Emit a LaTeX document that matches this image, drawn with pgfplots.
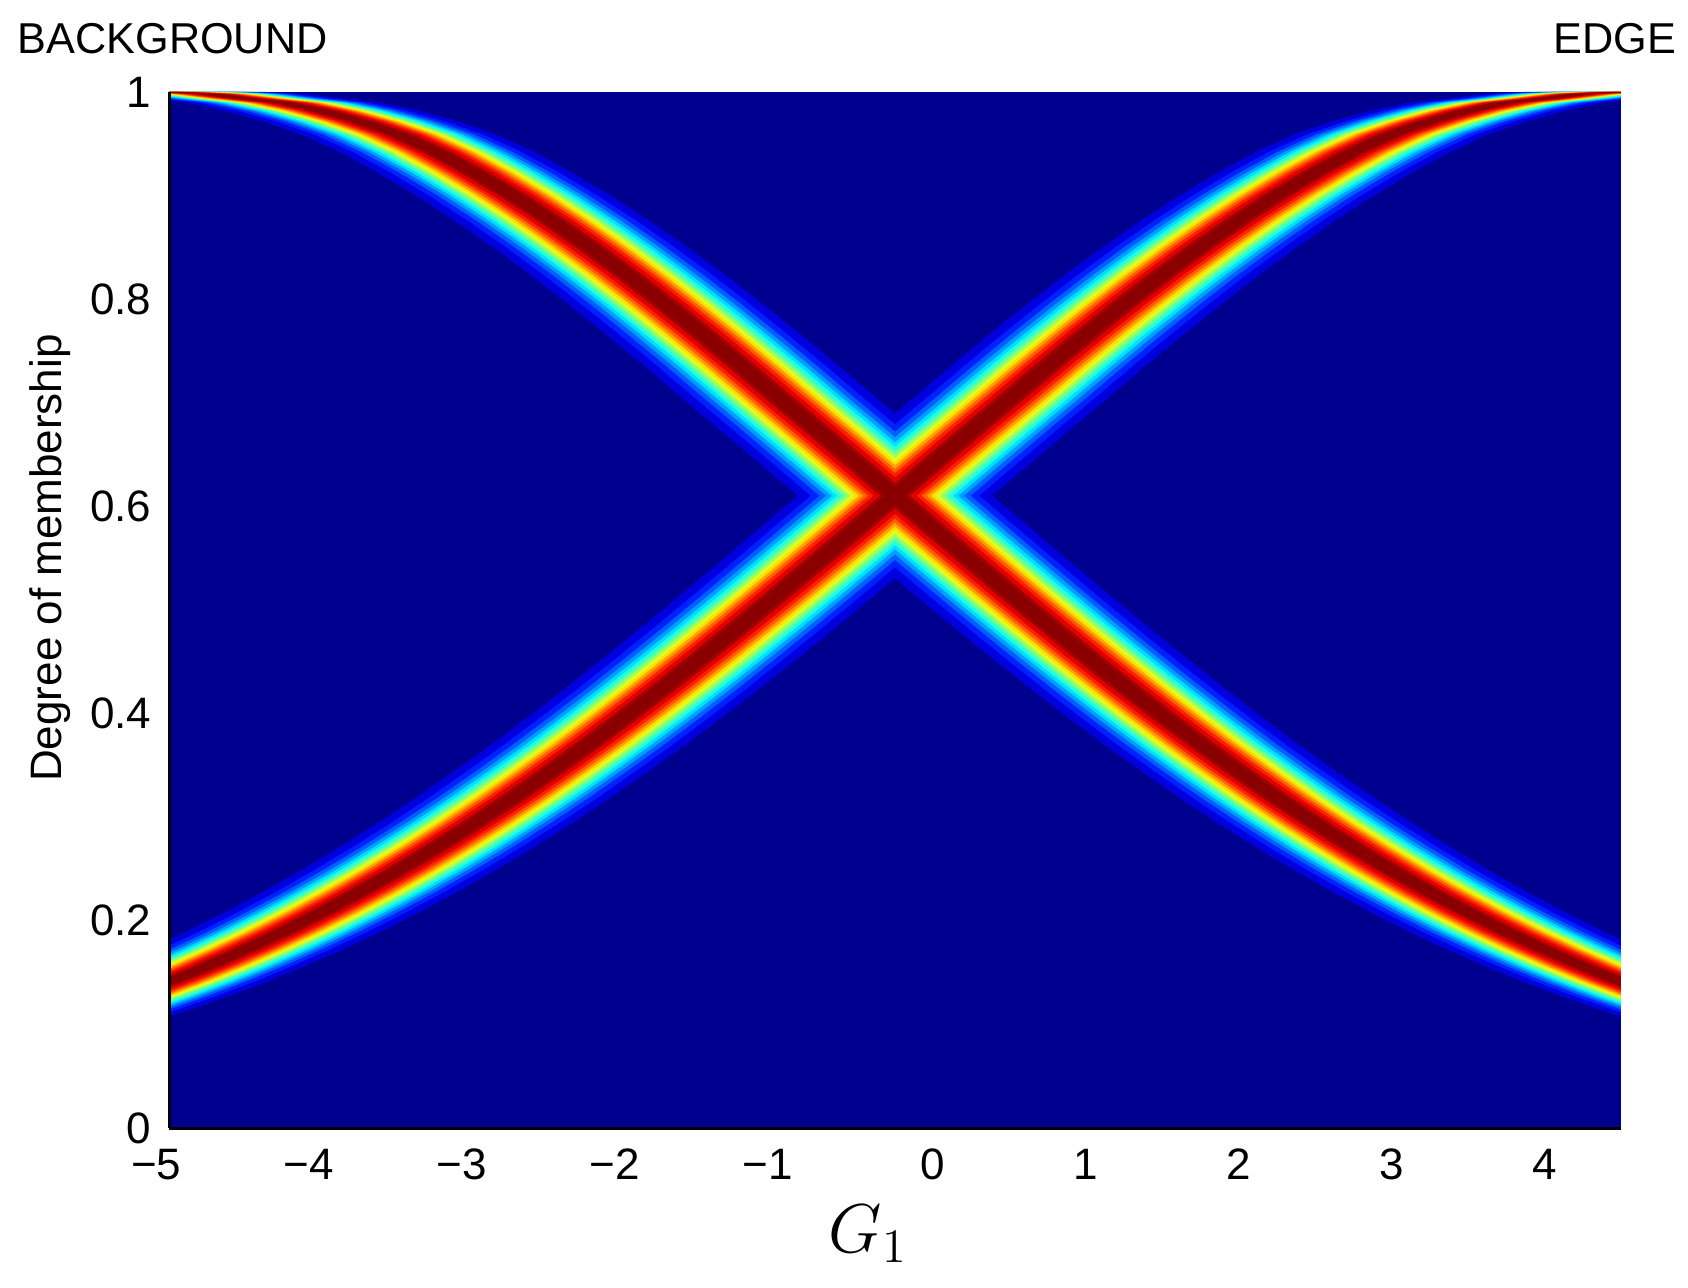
\documentclass[border=0pt]{standalone}
\usepackage{fontspec}
\setmainfont{Liberation Sans}
\usepackage{pgfplots}
\pgfplotsset{compat=1.18}
\usepackage{pgfplotstable}
\usepgfplotslibrary{fillbetween}

\pgfplotstableread{
x y
-6.00 1.0000
-5.50 1.0000
-5.25 1.0000
-5.00 1.0000
-4.75 0.9982
-4.50 0.9937
-4.25 0.9897
-4.00 0.9820
-3.75 0.9718
-3.50 0.9592
-3.25 0.9424
-3.00 0.9223
-2.75 0.9003
-2.50 0.8764
-2.25 0.8508
-2.00 0.8237
-1.75 0.7952
-1.50 0.7656
-1.25 0.7351
-1.00 0.7038
-0.75 0.6729
-0.50 0.6417
-0.25 0.6103
0.00 0.5789
0.25 0.5476
0.50 0.5166
0.75 0.4861
1.00 0.4561
1.25 0.4268
1.50 0.3983
1.75 0.3707
2.00 0.3442
2.25 0.3186
2.50 0.2942
2.75 0.2709
3.00 0.2488
3.25 0.2279
3.50 0.2082
3.75 0.1896
4.00 0.1723
4.25 0.1561
4.50 0.1410
4.75 0.1271
5.00 0.1142
5.25 0.1024
5.50 0.0916
}\bgtab

\pgfplotstableread{
x y
-6.00 0.0916
-5.75 0.1024
-5.50 0.1142
-5.25 0.1271
-5.00 0.1410
-4.75 0.1561
-4.50 0.1723
-4.25 0.1896
-4.00 0.2082
-3.75 0.2279
-3.50 0.2488
-3.25 0.2709
-3.00 0.2942
-2.75 0.3186
-2.50 0.3442
-2.25 0.3707
-2.00 0.3983
-1.75 0.4268
-1.50 0.4561
-1.25 0.4861
-1.00 0.5166
-0.75 0.5476
-0.50 0.5789
-0.25 0.6103
0.00 0.6417
0.25 0.6729
0.50 0.7038
0.75 0.7351
1.00 0.7656
1.25 0.7952
1.50 0.8237
1.75 0.8508
2.00 0.8764
2.25 0.9003
2.50 0.9223
2.75 0.9424
3.00 0.9592
3.25 0.9718
3.50 0.9820
3.75 0.9897
4.00 0.9937
4.25 0.9982
4.50 1.0000
4.75 1.0000
5.50 1.0000
6.00 1.0000
}\edtab

\definecolor{jbg}{rgb}{0,0,0.56}
\definecolor{ca}{rgb}{0,0,0.875}
\definecolor{cb}{rgb}{0,0.125,1}
\definecolor{cc}{rgb}{0,0.375,1}
\definecolor{cd}{rgb}{0,0.625,1}
\definecolor{ce}{rgb}{0,0.875,1}
\definecolor{cf}{rgb}{0.125,1,0.875}
\definecolor{cg}{rgb}{0.375,1,0.625}
\definecolor{ch}{rgb}{0.625,1,0.375}
\definecolor{ci}{rgb}{0.875,1,0.125}
\definecolor{cj}{rgb}{1,0.875,0}
\definecolor{ck}{rgb}{1,0.625,0}
\definecolor{cl}{rgb}{1,0.375,0}
\definecolor{cm}{rgb}{1,0.125,0}
\definecolor{cn}{rgb}{0.875,0,0}
\definecolor{co}{rgb}{0.64,0,0}
\definecolor{cp}{rgb}{0.54,0,0}

\newcommand{\lev}[3]{%
\addplot[draw=none,forget plot,name path=bl#3] table[x expr=\thisrow{x}-#1,y=y]{\bgtab};
\addplot[draw=none,forget plot,name path=br#3] table[x expr=\thisrow{x}+#1,y=y]{\bgtab};
\addplot[draw=none,forget plot,name path=el#3] table[x expr=\thisrow{x}-#1,y=y]{\edtab};
\addplot[draw=none,forget plot,name path=er#3] table[x expr=\thisrow{x}+#1,y=y]{\edtab};
\addplot[fill=#2,draw=none,forget plot] fill between[of=bl#3 and br#3];
\addplot[fill=#2,draw=none,forget plot] fill between[of=el#3 and er#3];
}

\begin{document}
\begin{tikzpicture}
\begin{axis}[
  at={(0,0)}, anchor=south west,
  scale only axis, width=363pt, height=259pt,
  xmin=-5, xmax=4.5, ymin=0, ymax=1,
  axis background/.style={fill=jbg},
  axis on top,
  axis x line=bottom, axis y line=left,
  axis line style={-, line width=0.75pt, black},
  major tick length=0pt,
  xtick={-5,-4,-3,-2,-1,0,1,2,3,4},
  xticklabels={\llap{−}5,\llap{−}4,\llap{−}3,\llap{−}2,\llap{−}1,0,1,2,3,4},
  ytick={0,0.2,0.4,0.6,0.8,1},
  yticklabels={0,0.2,0.4,0.6,0.8,1},
  tick label style={font=\fontsize{11}{13}\selectfont, inner sep=1pt},
  xticklabel style={yshift=-4pt},
  yticklabel style={xshift=-3.2pt},
]
\lev{0.636}{ca}{a}
\lev{0.551}{cb}{b}
\lev{0.494}{cc}{c}
\lev{0.450}{cd}{d}
\lev{0.412}{ce}{e}
\lev{0.378}{cf}{f}
\lev{0.347}{cg}{g}
\lev{0.318}{ch}{h}
\lev{0.290}{ci}{i}
\lev{0.262}{cj}{j}
\lev{0.234}{ck}{k}
\lev{0.205}{cl}{l}
\lev{0.174}{cm}{m}
\lev{0.140}{cn}{n}
\lev{0.097}{co}{o}
\lev{0.067}{cp}{p}
\end{axis}
\node[anchor=base west, inner sep=0pt, font=\fontsize{10.8}{13}\selectfont] at (-38pt,268.5pt) {BACKGROUND};
\node[anchor=base east, inner sep=0pt, font=\fontsize{10.8}{13}\selectfont] at (377pt,268.5pt) {EDGE};
\node[anchor=base, rotate=90, inner sep=0pt, font=\fontsize{11}{13}\selectfont] at (-26.75pt,142.5pt) {Degree of membership};
\node[anchor=base west, inner sep=0pt, font=\fontsize{18}{20}\selectfont] at (164.75pt,-31pt) {$G_1$};
\path (-42.25pt,-39.75pt) rectangle (379.75pt,282pt);
\end{tikzpicture}
\end{document}
